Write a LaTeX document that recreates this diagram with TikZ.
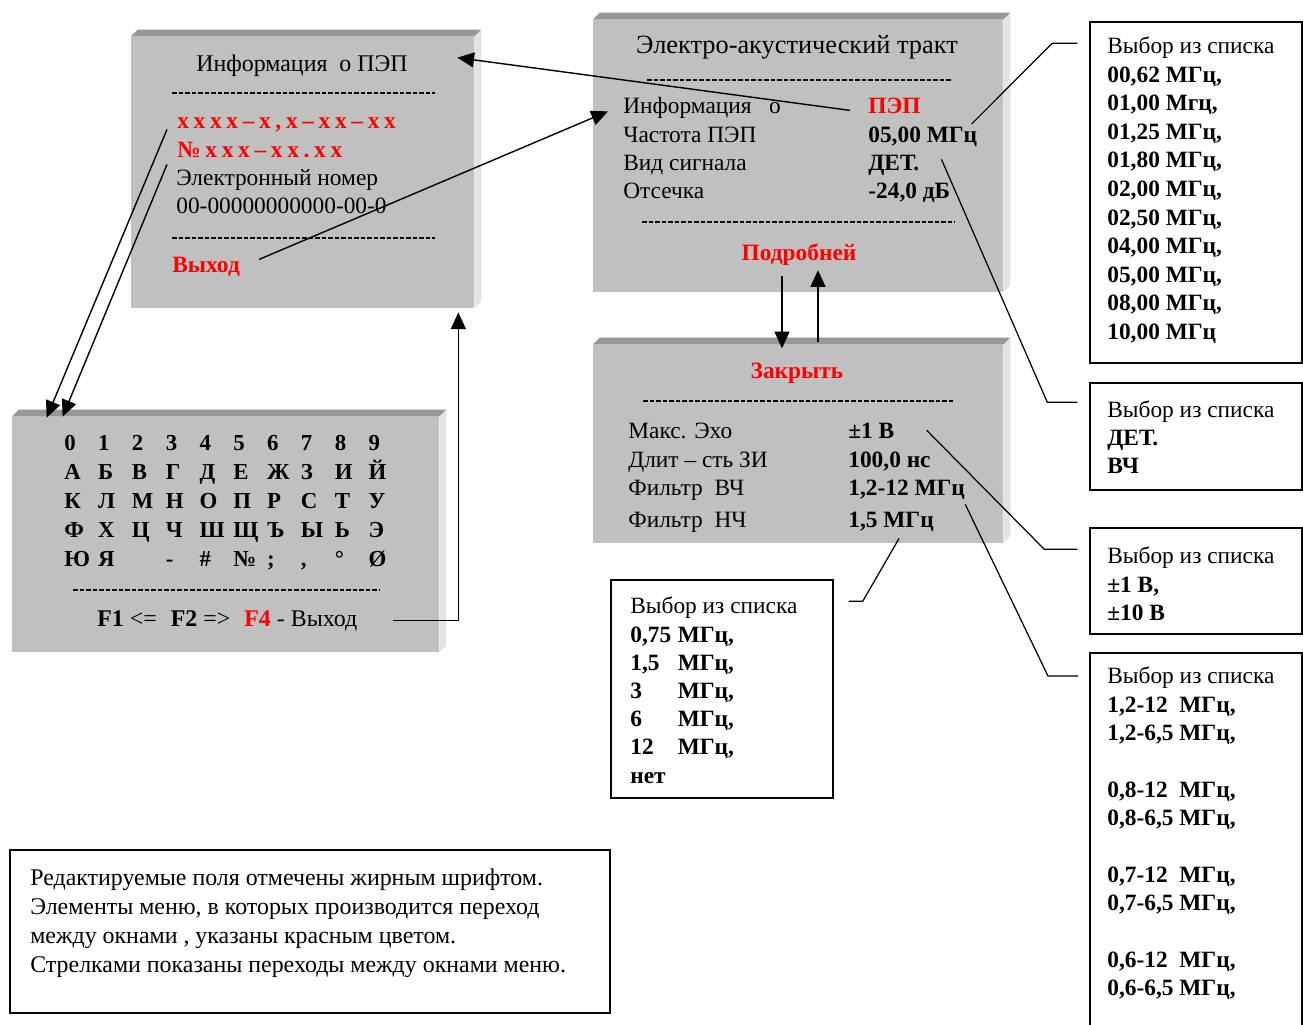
\documentclass[tikz,border=0pt]{standalone}
\usepackage{fontspec}
\setmainfont{Liberation Serif}
\usetikzlibrary{arrows.meta,calc,fit,positioning}

\newcommand{\menupanel}[3]{%
    \node[fit={#2 #3}, inner sep=0pt, fill=panel_front] (#1) {};
    \fill[panel_top] (#1.north west) -- ++(7,-7) -- ($(#1.north east)+(7,-7)$) -- (#1.north east) -- cycle;
    \fill[panel_side] (#1.north east) -- ++(7,-7) -- ($(#1.south east)+(7,-7)$) -- (#1.south east) -- cycle;
}

\tikzset{
    txt/.style={anchor=base west, inner sep=0pt, font=\fontsize{13.3}{16}\selectfont},
    bld/.style={txt, font=\fontsize{13.3}{16}\selectfont\bfseries},
    redb/.style={bld, text=menu_red},
    spaced/.style={redb, font=\fontsize{13.3}{16}\selectfont\bfseries\addfontfeatures{LetterSpace=20}},
    title/.style={anchor=base, inner sep=0pt, font=\fontsize{15}{17}\selectfont},
    key/.style={anchor=base west, inner sep=0pt, font=\fontsize{13}{15}\selectfont\bfseries},
    sep/.style={dash pattern=on 2.8pt off 0.9pt, line width=0.9pt},
    arr/.style={-{Triangle[length=9.5pt,width=8.5pt]}, line width=0.8pt},
    lead/.style={line width=0.7pt},
    listbox/.style={draw, line width=0.8pt, inner sep=0pt},
}

\begin{document}
\begin{tikzpicture}[x=0.02cm, y=-0.02cm]
    \definecolor{panel_front}{HTML}{C0C0C0}
    \definecolor{panel_top}{HTML}{979797}
    \definecolor{panel_side}{HTML}{E3E3E3}
    \definecolor{menu_red}{HTML}{FF0000}
    \useasboundingbox[fill=white] (0,0) rectangle (1303,1025);

    % menu windows
    \menupanel{box1}{(131,37)}{(474,308)}
    \menupanel{box2}{(593,20)}{(1003,292)}
    \menupanel{box3}{(12,417)}{(439,652)}
    \menupanel{box4}{(593,345)}{(1003,543)}

    % Информация о ПЭП
    \node[title, font=\fontsize{13.6}{16}\selectfont] (t1) at (302,71) {Информация\ \ о ПЭП};
    \draw[sep] (172,93) -- (435,93);
    \node[spaced] (code) at (177,128) {xxxx–x,x–xx–xx};
    \node[spaced] (serial) at (177,157) {№xxx–xx.xx};
    \node[txt] (enum) at (176,185) {Электронный номер};
    \node[txt] (enumval) at (176,213) {00-00000000000-00-0};
    \draw[sep] (172,238) -- (435,238);
    \node[redb] (exit1) at (172,272) {Выход};

    % Электро-акустический тракт
    \node[title] (t2) at (797,53) {Электро-акустический тракт};
    \draw[sep] (647,80) -- (952,80);
    \node[txt] (r1) at (623,113) {Информация\ \ \ о};
    \node[txt] (r2) at (623,142) {Частота ПЭП};
    \node[txt] (r3) at (623,170) {Вид сигнала};
    \node[txt] (r4) at (623,198) {Отсечка};
    \node[redb] (pep) at (868,113) {ПЭП};
    \node[bld] (freq) at (868,142) {05,00 МГц};
    \node[bld] (sig) at (868,170) {ДЕТ.};
    \node[bld] (cut) at (868,198) {-24,0 дБ};
    \draw[sep] (642,222) -- (955,222);
    \node[redb, anchor=base] (more) at (799,260) {Подробней};

    % Закрыть
    \node[redb, anchor=base] (close) at (797,378) {Закрыть};
    \draw[sep] (643,401) -- (955,401);
    \node[txt] (s1) at (628,438) {Макс. Эхо};
    \node[txt] (s2) at (628,467) {Длит – сть ЗИ};
    \node[txt] (s3) at (628,495) {Фильтр\ \ ВЧ};
    \node[txt] (s4) at (628,527) {Фильтр\ \ НЧ};
    \node[bld] (echo) at (848,438) {±1 В};
    \node[bld] (pulse) at (848,467) {100,0 нс};
    \node[bld] (hpf) at (848,495) {1,2-12 МГц};
    \node[bld] (lpf) at (848,527) {1,5 МГц};

    % keyboard
    \foreach \keys [count=\r from 0] in {{0,1,2,3,4,5,6,7,8,9},{А,Б,В,Г,Д,Е,Ж,З,И,Й},{К,Л,М,Н,О,П,Р,С,Т,У},{Ф,Х,Ц,Ч,Ш,Щ,Ъ,Ы,Ь,Э},{Ю,Я,{},-,\#,№,;,{,},°,Ø}}
        \foreach \k [count=\c from 0] in \keys
            \node[key] (key-\r-\c) at (64+33.8*\c, 450+29.2*\r) {\k};
    \draw[sep] (73,590) -- (380,590);
    \node[txt, font=\fontsize{13.6}{16}\selectfont] (fkeys) at (97,626) {\textbf{F1} <=\hspace{8pt}\textbf{F2} =>\hspace{8pt}\textcolor{menu_red}{\textbf{F4}} - Выход};

    % lists
    \node[listbox, fit={(1090,22) (1302,363)}] (list1) {};
    \node[txt] (l1-head) at (1107,53) {Выбор из списка};
    \foreach \t [count=\i from 0] in {{00,62 МГц,},{01,00 Мгц,},{01,25 МГц,},{01,80 МГц,},{02,00 МГц,},{02,50 МГц,},{04,00 МГц,},{05,00 МГц,},{08,00 МГц,},{10,00 МГц}}
        \node[bld] (l1-\i) at (1107, 82+28.6*\i) {\t};

    \node[listbox, fit={(1090,383) (1302,490)}] (list2) {};
    \node[txt] (l2-head) at (1107,417) {Выбор из списка};
    \node[bld] (l2-0) at (1107,445) {ДЕТ.};
    \node[bld] (l2-1) at (1107,473) {ВЧ};

    \node[listbox, fit={(1090,528) (1302,634)}] (list3) {};
    \node[txt] (l3-head) at (1107,563) {Выбор из списка};
    \node[bld] (l3-0) at (1107,592) {±1 В,};
    \node[bld] (l3-1) at (1107,620) {±10 В};

    \coordinate (list4) at (1090,653);
    \draw[line width=0.8pt] (list4 |- 0,1025) -- (list4) -- (1302,653) -- (1302,1025);
    \node[txt] (l4-head) at (1107,683) {Выбор из списка};
    \foreach \y/\t [count=\i from 0] in {712/{1,2-12\ \ МГц,},740/{1,2-6,5 МГц,},797/{0,8-12\ \ МГц,},825/{0,8-6,5 МГц,},882/{0,7-12\ \ МГц,},910/{0,7-6,5 МГц,},967/{0,6-12\ \ МГц,},995/{0,6-6,5 МГц,}}
        \node[bld] (l4-\i) at (1107,\y) {\t};

    \node[listbox, fit={(611,580) (833,798)}] (list5) {};
    \node[txt] (l5-head) at (630,613) {Выбор из списка};
    \foreach \t [count=\i from 0] in {{\makebox[27pt][l]{0,75}МГц,},{\makebox[27pt][l]{1,5}МГц,},{\makebox[27pt][l]{3}МГц,},{\makebox[27pt][l]{6}МГц,},{\makebox[27pt][l]{12}МГц,},{нет}}
        \node[bld] (l5-\i) at (630, 642+28.2*\i) {\t};

    % note
    \node[listbox, fit={(10,850) (610,1013)}] (note) {};
    \foreach \t [count=\i from 0] in {{Редактируемые поля отмечены жирным шрифтом.},{Элементы меню, в которых производится переход},{между окнами , указаны красным цветом.},{Стрелками показаны переходы между окнами меню.}}
        \node[txt, font=\fontsize{13.6}{16}\selectfont] (note-\i) at (30, 885+29*\i) {\t};

    % leaders to lists
    \draw[lead] ($(freq.north east)+(-6,-2)$) -- ($(list1.north west)+(-37,22)$) -- ++(25,0);
    \draw[lead] ($(sig.north east)+(22,5)$) -- ($(list2.north west)+(-42,20)$) -- ++(30,0);
    \draw[lead] ($(echo.north east)+(32,8)$) -- ($(list3.north west)+(-45,22)$) -- ++(33,0);
    \draw[lead] ($(hpf.south east)+(0,5)$) -- ($(list4)+(-42,23)$) -- ++(30,0);
    \draw[lead] ($(lpf.south)+(8,7)$) -- ($(list5.north east)+(29,22)$) -- ++(-14,0);

    % transitions
    \draw[arr] ($(pep.west)+(-18,5)$) -- ($(box1.north east)+(-17,21)$);
    \draw[arr] ($(exit1.east)+(19,-7)$) -- ($(r1.west)+(-15,4)$);
    \draw[arr] ($(code.west)+(-10,5)$) -- ($(box3.north west)+(35,1)$);
    \draw[arr] ($(serial.west)+(-10,15)$) -- ($(box3.north west)+(51,0)$);
    \draw[arr] ($(fkeys.east)+(35,0)$) -| ($(box1.south east)+(-16,4)$);
    \draw[arr] ($(more.south)+(-17,11)$) -- ++(0,72);
    \draw[arr] ($(close.north)+(21,-20)$) -- ++(0,-72);
\end{tikzpicture}
\end{document}
